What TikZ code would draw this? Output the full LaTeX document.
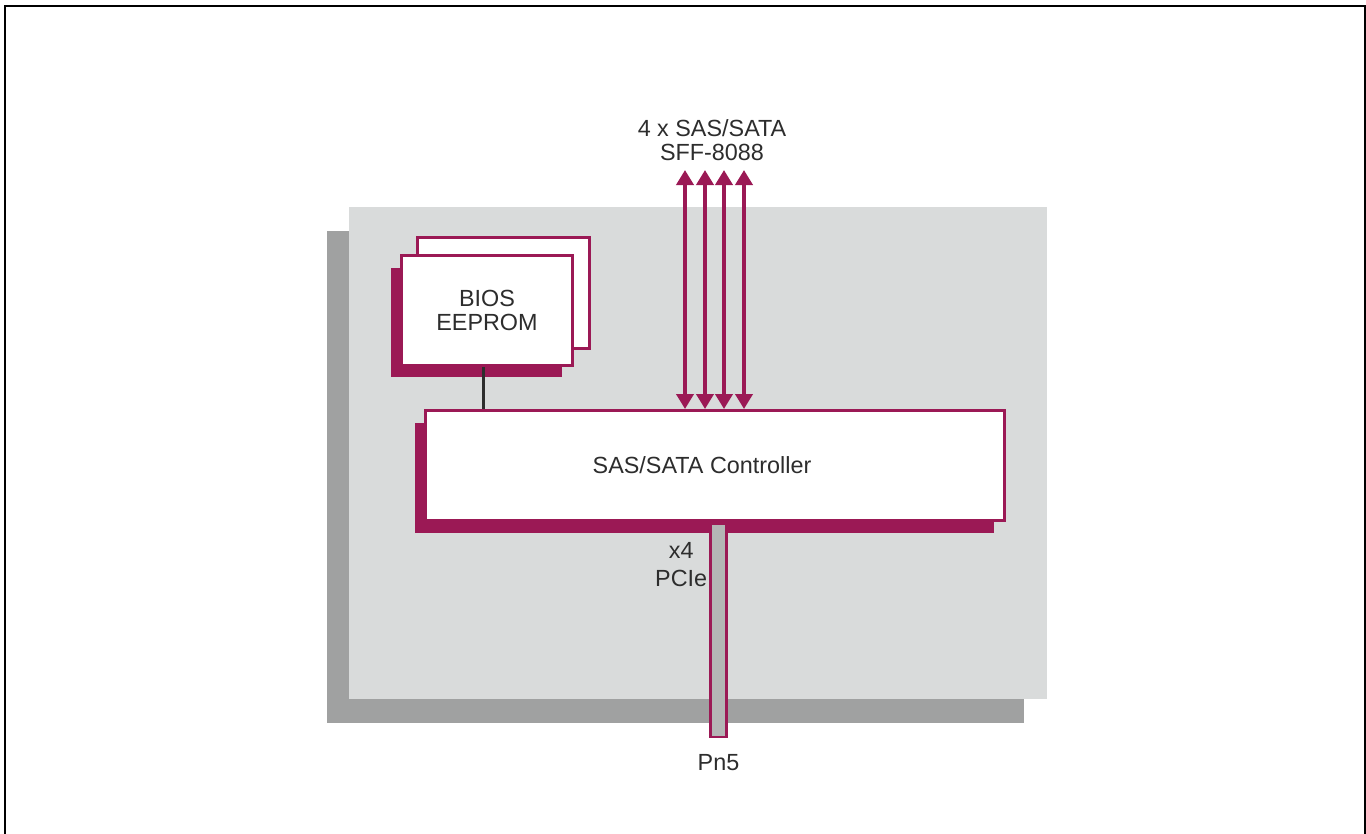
\documentclass[tikz,border=0pt]{standalone}
\usepackage{fontspec}
\setmainfont{Liberation Sans}
\usetikzlibrary{arrows.meta,positioning,shadows}
\definecolor{menred}{RGB}{155,25,85}
\definecolor{boardgray}{RGB}{217,219,219}
\definecolor{boardshade}{RGB}{160,161,161}
\definecolor{pingray}{RGB}{180,181,181}
\definecolor{txtgray}{RGB}{45,45,45}

\begin{document}
\begin{tikzpicture}[
  x=0.02cm, y=-0.02cm,
  font=\fontsize{13.3}{13.6}\selectfont, text=txtgray,
  board/.style={fill=boardgray, inner sep=0pt, minimum width=13.96cm, minimum height=9.84cm,
    drop shadow={shadow xshift=-0.45cm, shadow yshift=-0.48cm, fill=boardshade, opacity=1}},
  chipback/.style={draw=menred, line width=0.06cm, fill=white, inner sep=0pt, align=center},
  chip/.style={chipback,
    drop shadow={shadow xshift=-0.21cm, shadow yshift=-0.24cm, fill=menred, opacity=1}},
  pcibar/.style={draw=menred, line width=0.05cm, fill=pingray, inner sep=0pt, minimum width=0.32cm, minimum height=4.28cm},
  link/.style={draw=menred, line width=0.075cm, {Triangle[length=0.3cm,width=0.34cm]}-{Triangle[length=0.3cm,width=0.34cm]}},
  wire/.style={draw=txtgray, line width=0.06cm},
]
\clip (0,0) rectangle (1366,833);
\draw[line width=0.04cm] (5,6) rectangle (1365,860);

% board with its shadow
\node[board] (board) at (698,453) {};

% BIOS
\node[chipback, minimum width=3.44cm, minimum height=2.22cm] (biosback) at (503.5,293) {};
\node[chip, minimum width=3.42cm, minimum height=2.2cm] (bios) at (487,310.5) {BIOS\\EEPROM};

% controller
\node[chip, minimum width=11.58cm, minimum height=2.2cm] (ctrl) at (715,465.5) {SAS/SATA Controller\hspace*{0.52cm}};
\draw[wire] ([xshift=-0.08cm]bios.south) -- ([xshift=-0.08cm]bios.south |- ctrl.north);

% PCIe to Pn5
\node[pcibar, anchor=north] (pcie) at ([xshift=0.07cm]ctrl.south) {};
\node[anchor=north east, align=center, inner sep=1pt, font=\fontsize{13.3}{16.2}\selectfont] (lanes) at ([yshift=-0.36cm]pcie.north west) {x4\\PCIe};
\node[below=0.2cm of pcie] (pn5) {Pn5};

% SAS/SATA ports
\node[anchor=south, align=center, inner sep=0pt] (sasport) at (712,161) {4 x SAS/SATA\\SFF-8088};
\foreach \i/\xx in {1/685,2/705,3/724,4/744} {
  \coordinate (port\i) at (\xx,170);
  \draw[link] (port\i) -- (port\i |- ctrl.north);
}
\end{tikzpicture}
\end{document}
